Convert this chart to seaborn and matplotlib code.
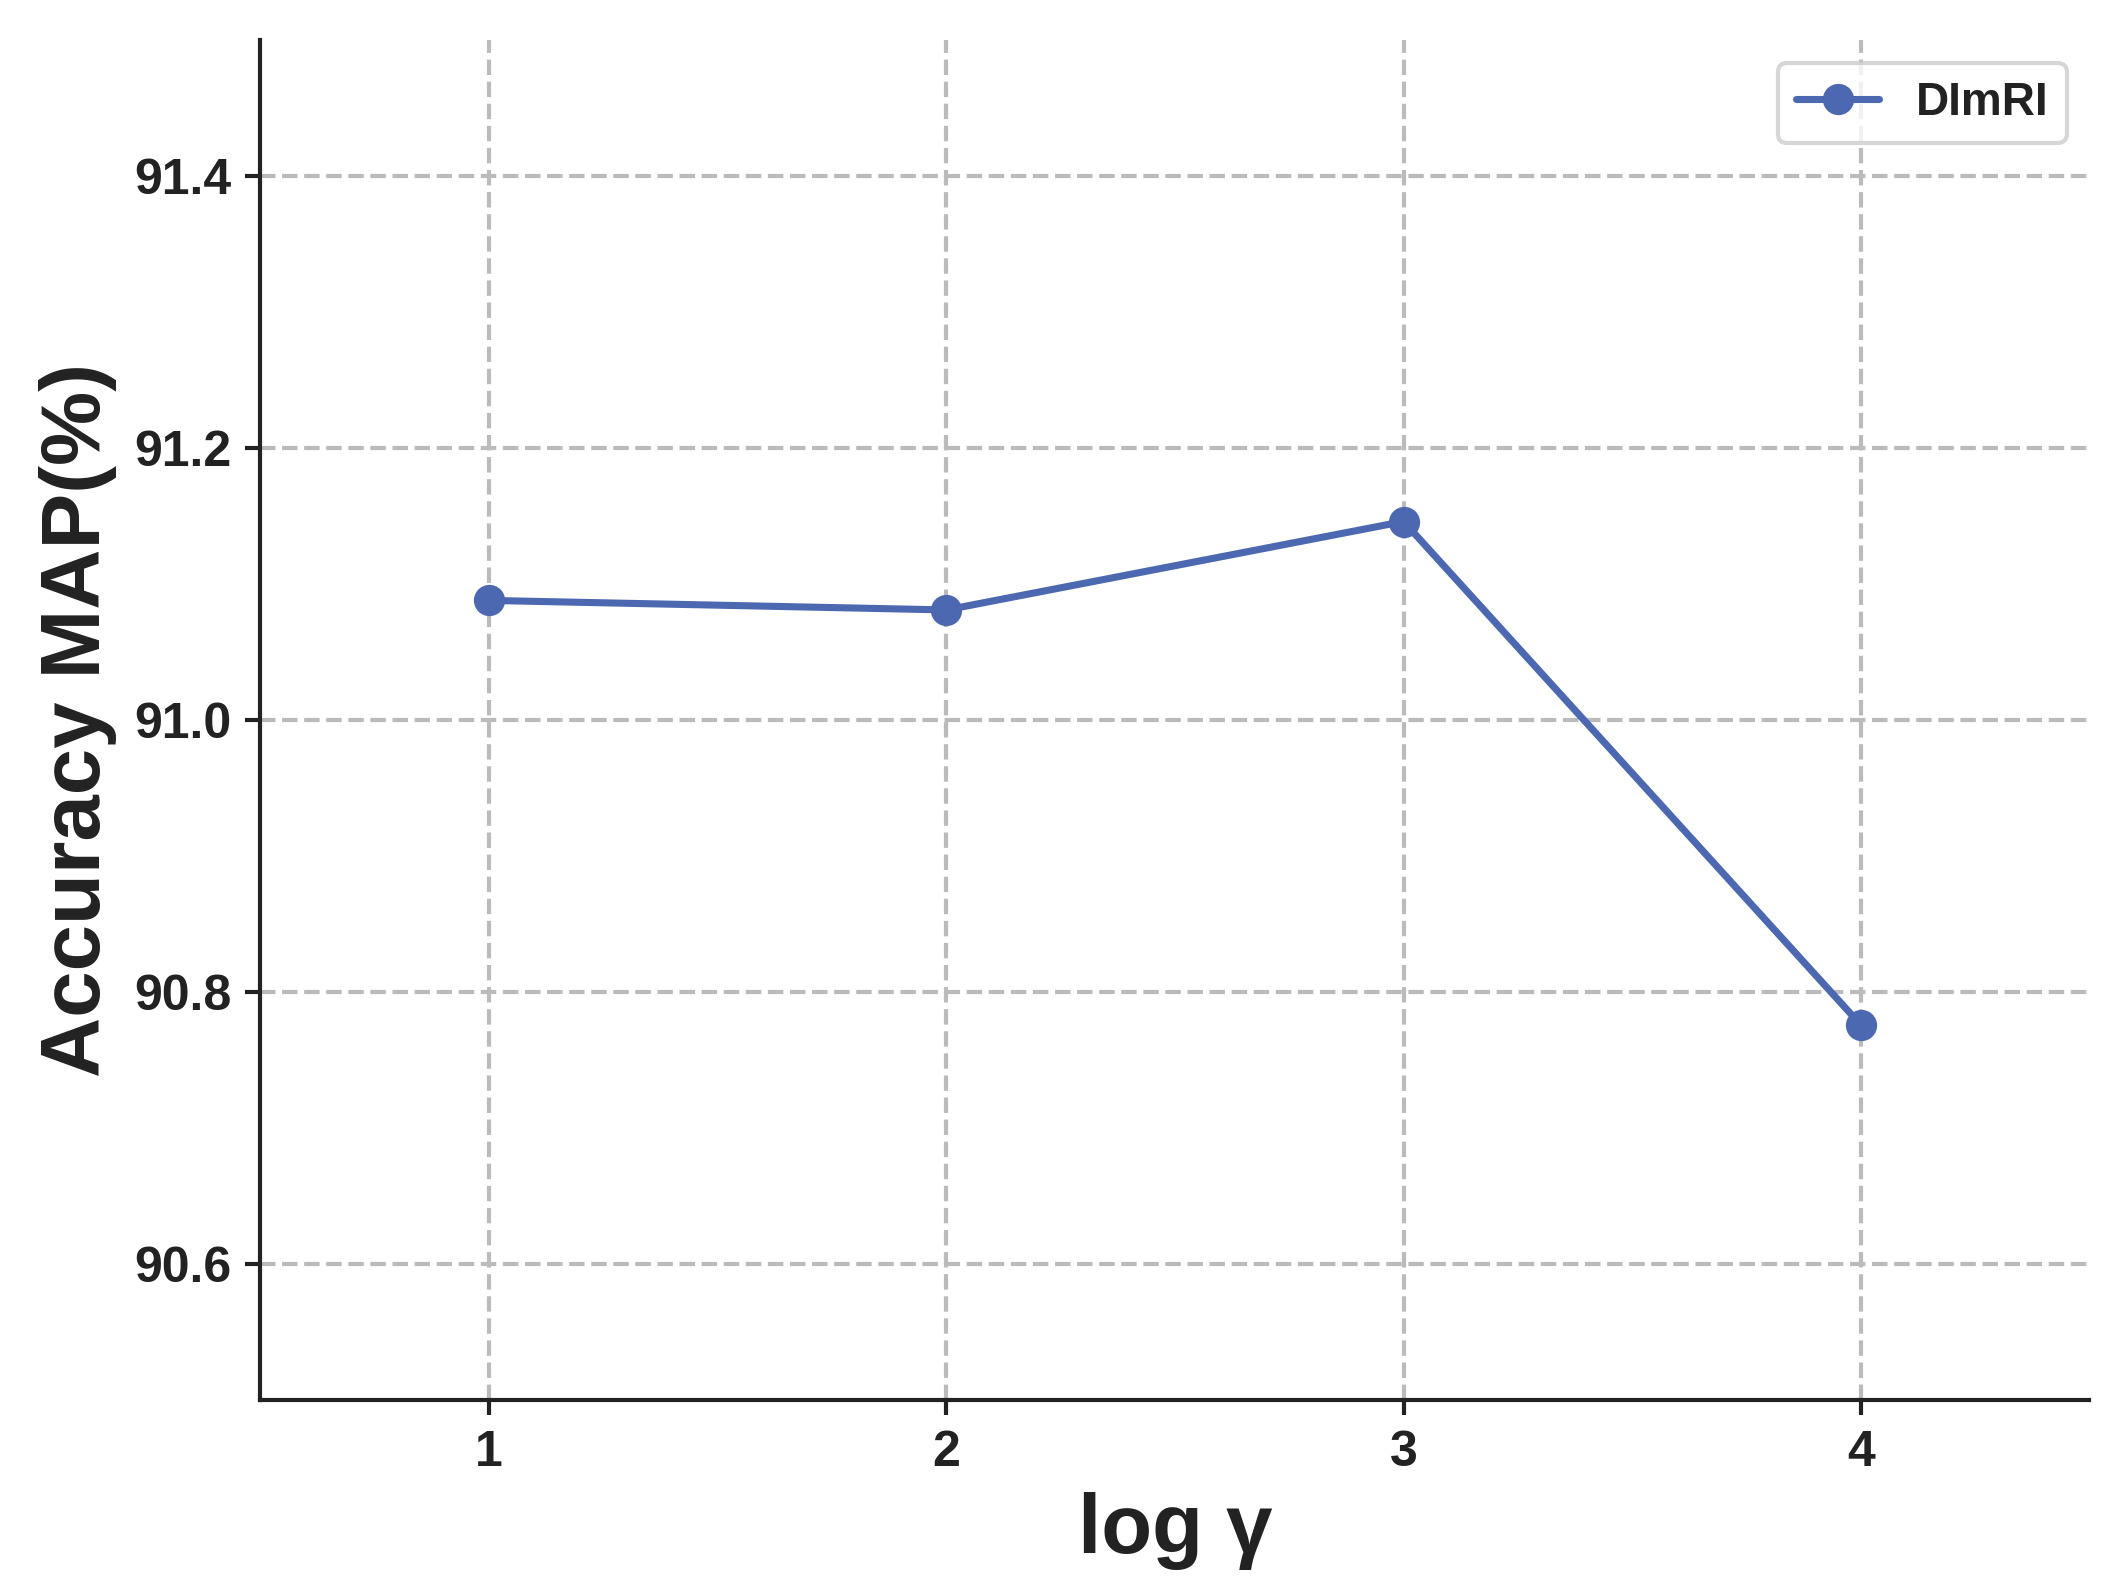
import matplotlib
matplotlib.use("Agg")
import matplotlib.pyplot as plt
import seaborn as sns
import pandas as pd

log_gamma = [1, 2, 3, 4]
accuracy = [91.088, 91.081, 91.146, 90.776]
series_name = "DImRI"
yticks = [90.6, 90.8, 91.0, 91.2, 91.4]
xticks = [1, 2, 3, 4]

sns.set_style("ticks")
plt.rcParams['font.family'] = ['Liberation Sans', 'DejaVu Sans']
plt.rcParams['font.weight'] = 'bold'

df = pd.DataFrame({"log_gamma": log_gamma, "accuracy": accuracy, "series": series_name})

fig, ax = plt.subplots(figsize=(2117/300, 1595/300), dpi=300)
sns.lineplot(data=df, x="log_gamma", y="accuracy", hue="series", palette=["#4C68B0"],
             marker="o", markersize=7.5, markeredgewidth=0, linewidth=1.7, ax=ax)

ax.set_xlim(0.5, 4.5)
ax.set_ylim(90.5, 91.5)
ax.set_xticks(xticks)
ax.set_xticklabels([str(t) for t in xticks])
ax.set_yticks(yticks)
ax.set_yticklabels([f"{t:.1f}" for t in yticks])
ax.grid(True, linestyle="--", color="#bbbbbb", linewidth=1.0)
ax.set_axisbelow(True)
for lab in ax.get_xticklabels() + ax.get_yticklabels():
    lab.set_fontsize(12)
    lab.set_fontweight("bold")
    lab.set_color("#222222")
ax.tick_params(axis="y", length=3.5, width=1, color="#222222")
ax.tick_params(axis="x", length=3.5, width=1, color="#222222")
ax.set_xlabel("log γ", fontsize=20, fontweight="bold", color="#222222")
ax.set_ylabel("Accuracy MAP(%)", fontsize=20, fontweight="bold", color="#222222")
sns.despine(ax=ax)
for s in ["left", "bottom"]:
    ax.spines[s].set_color("#222222")
    ax.spines[s].set_linewidth(1)

leg = ax.legend(loc="upper right", fontsize=11, frameon=True, fancybox=True,
                handlelength=1.8)
for t in leg.get_texts():
    t.set_fontweight("bold")
    t.set_color("#222222")

fig.subplots_adjust(left=0.123, right=0.987, top=0.975, bottom=0.122)
fig.savefig("out.png", dpi=300)
